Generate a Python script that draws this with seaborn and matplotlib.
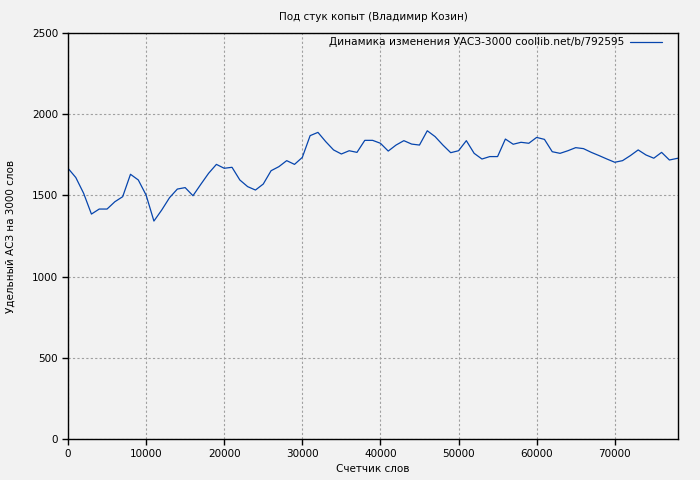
import matplotlib
matplotlib.use("Agg")
import matplotlib.pyplot as plt
import seaborn as sns
import pandas as pd

title = "Под стук копыт (Владимир Козин)"
x_label = "Счетчик слов"
y_label = "Удельный АСЗ на 3000 слов"
legend_label = "Динамика изменения УАСЗ-3000 coollib.net/b/792595"

words = [0, 1000, 2000, 3000, 4000, 5000, 6000, 7000, 8000, 9000,
         10000, 11000, 12000, 13000, 14000, 15000, 16000, 17000, 18000, 19000,
         20000, 21000, 22000, 23000, 24000, 25000, 26000, 27000, 28000, 29000,
         30000, 31000, 32000, 33000, 34000, 35000, 36000, 37000, 38000, 39000,
         40000, 41000, 42000, 43000, 44000, 45000, 46000, 47000, 48000, 49000,
         50000, 51000, 52000, 53000, 54000, 55000, 56000, 57000, 58000, 59000,
         60000, 61000, 62000, 63000, 64000, 65000, 66000, 67000, 68000, 69000,
         70000, 71000, 72000, 73000, 74000, 75000, 76000, 77000, 78100]
values = [1667, 1610, 1513, 1385, 1416, 1416, 1461, 1492, 1630, 1595,
          1502, 1342, 1410, 1486, 1539, 1548, 1498, 1568, 1636, 1691,
          1667, 1673, 1595, 1554, 1533, 1570, 1652, 1677, 1714, 1691,
          1734, 1868, 1888, 1831, 1780, 1755, 1775, 1765, 1839, 1839,
          1821, 1773, 1810, 1837, 1816, 1810, 1898, 1862, 1810, 1763,
          1775, 1837, 1759, 1724, 1739, 1739, 1847, 1815, 1827, 1821,
          1857, 1845, 1769, 1759, 1775, 1794, 1788, 1765, 1745, 1724,
          1704, 1714, 1745, 1780, 1749, 1729, 1765, 1718, 1729]
x_ticks = [0, 10000, 20000, 30000, 40000, 50000, 60000, 70000]
y_ticks = [0, 500, 1000, 1500, 2000, 2500]

df = pd.DataFrame({"words": words, "value": values})

sns.set_theme(style="white")
plt.rcParams["font.family"] = ["DejaVu Sans"]
plt.rcParams["text.color"] = "black"
plt.rcParams["axes.labelcolor"] = "black"
plt.rcParams["xtick.color"] = "black"
plt.rcParams["ytick.color"] = "black"
bg = "#f2f2f2"
fig = plt.figure(figsize=(7, 4.8), dpi=100, facecolor=bg)
ax = fig.add_axes([68/700, 1-439/480, 610/700, 406/480])
ax.set_facecolor(bg)

sns.lineplot(data=df, x="words", y="value", ax=ax, color="#0645ad",
             linewidth=0.9, label=legend_label)

ax.set_xlim(0, 78100)
ax.set_ylim(0, 2500)
ax.set_xticks(x_ticks)
ax.set_yticks(y_ticks)
ax.grid(True, color="#a0a0a0", linestyle=(0, (2, 2)), linewidth=0.8)
for s in ax.spines.values():
    s.set_color("black")
    s.set_linewidth(1)
ax.tick_params(direction="out", length=4, width=1, color="black",
               labelcolor="black", labelsize=7.5, pad=3, left=True, bottom=True)
ax.set_title(title, fontsize=7.5, pad=9, color="black")
ax.set_xlabel(x_label, fontsize=7.5, labelpad=4)
ax.set_ylabel(y_label, fontsize=7.5, labelpad=12)
leg = ax.legend(loc="upper right", frameon=False, markerfirst=False,
                fontsize=7.6, handlelength=3.0, handletextpad=0.5,
                borderaxespad=0.3,
                bbox_to_anchor=(1 - 9/610, 1 + 3/406))

fig.savefig("out.png", dpi=100, facecolor=bg)
